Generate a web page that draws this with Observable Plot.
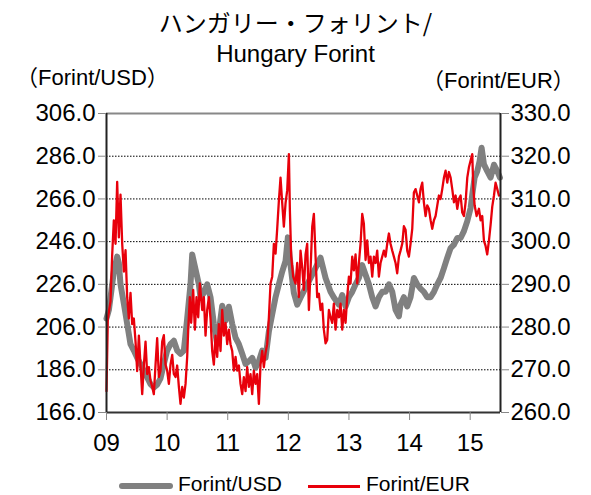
<!DOCTYPE html>
<html>
<head>
<meta charset="utf-8">
<script src="https://cdn.jsdelivr.net/npm/d3@7"></script>
<script src="https://cdn.jsdelivr.net/npm/@observablehq/plot@0.6"></script>
<style>
  html, body { margin: 0; padding: 0; background: #fff; }
  body { width: 591px; height: 495px; position: relative; overflow: hidden;
         font-family: "Liberation Sans", Arial, "Noto Sans CJK JP", sans-serif; color: #000; }
  .abs { position: absolute; white-space: nowrap; }
  #title1 { left: 0; width: 591px; text-align: center; top: 8px; font-size: 24px; line-height: 28px;
            font-family: "Noto Sans CJK JP", "Liberation Sans", sans-serif; }
  #title2 { left: 0; width: 591px; text-align: center; top: 40px; font-size: 24px; line-height: 28px; }
  #ylab-l { left: 16px; top: 62px; font-size: 22px; line-height: 26px; }
  #ylab-r { left: 422px; top: 65px; font-size: 22px; line-height: 26px; }
  #chart { position: absolute; left: 0; top: 95px; }
  #legend { top: 474px; left: 0; width: 591px; height: 20px; font-size: 21px; line-height: 20px; }
  .sw { position: absolute; }
</style>
</head>
<body>
<div id="title1" class="abs">ハンガリー・フォリント/</div>
<div id="title2" class="abs">Hungary Forint</div>
<div id="ylab-l" class="abs"><span style="font-family:'Noto Sans CJK JP'">（</span>Forint/USD<span style="font-family:'Noto Sans CJK JP'">）</span></div>
<div id="ylab-r" class="abs"><span style="font-family:'Noto Sans CJK JP'">（</span>Forint/EUR<span style="font-family:'Noto Sans CJK JP'">）</span></div>
<div id="chart"></div>
<div id="legend" class="abs">
  <div class="sw" style="left:119px;top:9px;width:54px;height:6px;background:#808080;border-radius:3px;"></div>
  <div class="abs" style="left:178px;top:0;width:120px;">Forint/USD</div>
  <div class="sw" style="left:308px;top:11px;width:52px;height:2.5px;background:#e8000b;"></div>
  <div class="abs" style="left:366px;top:0;width:120px;">Forint/EUR</div>
</div>
<script>
// Forint/USD (left axis) — time in decimal years
const usdT = [2009.000,2009.039,2009.066,2009.121,2009.176,2009.204,2009.231,2009.286,2009.341,2009.396,2009.451,2009.506,2009.561,2009.616,2009.671,2009.726,2009.781,2009.836,2009.891,2009.946,2010.001,2010.056,2010.111,2010.166,2010.221,2010.276,2010.331,2010.386,2010.414,2010.469,2010.524,
2010.551,2010.606,2010.661,2010.716,2010.771,2010.826,2010.909,2010.964,2011.019,2011.074,2011.129,2011.184,2011.239,2011.294,2011.349,2011.404,2011.459,2011.514,2011.569,2011.624,2011.679,2011.734,2011.789,2011.844,2011.899,2011.954,2011.992,2012.036,2012.091,2012.146,
2012.201,2012.311,2012.421,2012.531,2012.614,2012.696,2012.751,2012.834,2012.889,2012.944,2012.999,2013.054,2013.109,2013.164,2013.219,2013.274,2013.329,2013.384,2013.439,2013.494,2013.549,2013.604,2013.659,2013.714,2013.769,2013.824,
2013.851,2013.906,2013.961,2014.016,2014.071,2014.126,2014.181,2014.236,2014.291,2014.347,2014.402,2014.457,2014.512,2014.567,2014.622,2014.677,2014.732,2014.787,2014.842,2014.897,2014.952,2015.007,2015.034,2015.073,2015.117,2015.155,2015.188,2015.227,2015.281,2015.337,2015.392,2015.447,2015.491];
const usdV = [210,214,219.8,232,239,236,226,217,207.5,198,195,191.6,188.7,185.5,182.4,179.3,177.7,179,182,188.7,195,198,199.6,195,193.5,195,210,226,240,233,226,
219.8,222,226,220,207.5,198,216,209,215.5,207.5,201,198,193.5,188.7,190,191.6,187,190,195,191.6,204,212,220,226,232,237,248,235,222,216.5,
219.8,226,232,238.5,229,222.5,219.8,216.5,221,215.7,220,222.5,226,229,235,230.5,226,220,215.7,220,222.5,222.5,226,222.5,214,211,
216.5,220,215.7,220,229,226,224,222.5,220,220,222.5,226,229,233.6,238.5,243,244.6,247.7,247.7,250.9,255.6,261.8,268,276,279,283.7,290,282.2,279,276,282,279,276];

// Forint/EUR (right axis)
const eurT = [2009.000,2009.022,2009.066,2009.094,2009.121,2009.149,2009.176,2009.204,2009.231,2009.259,2009.286,2009.314,2009.341,2009.369,2009.396,2009.424,2009.451,2009.479,2009.506,2009.534,2009.561,2009.589,2009.616,2009.644,2009.671,2009.699,2009.726,2009.754,2009.781,2009.809,2009.836,2009.864,2009.891,2009.919,2009.946,2009.974,
2010.001,2010.029,2010.056,2010.084,2010.111,2010.139,2010.166,2010.194,2010.221,2010.249,2010.276,2010.304,2010.331,2010.348,2010.375,2010.397,2010.430,2010.458,2010.485,2010.513,2010.540,
2010.579,2010.606,2010.634,2010.661,2010.689,2010.716,2010.744,2010.771,2010.799,2010.826,2010.854,2010.881,2010.909,2010.936,2010.964,2010.991,
2011.019,2011.046,2011.074,2011.101,2011.129,2011.156,2011.184,2011.211,2011.239,2011.266,2011.294,2011.321,2011.349,2011.376,2011.404,2011.431,2011.459,2011.486,2011.514,2011.541,2011.569,2011.596,2011.624,2011.651,2011.679,2011.706,2011.734,2011.761,2011.789,2011.816,2011.844,2011.871,2011.899,2011.926,2011.954,2011.981,
2012.009,2012.025,2012.047,2012.080,2012.119,2012.146,2012.174,2012.201,2012.229,2012.256,2012.284,2012.311,2012.339,2012.366,2012.394,2012.421,2012.449,2012.476,2012.504,2012.531,2012.559,2012.586,2012.614,2012.641,2012.669,2012.696,2012.724,2012.751,2012.779,2012.806,2012.834,2012.861,2012.889,2012.916,2012.944,2012.971,2012.999,
2013.026,2013.054,2013.081,2013.109,2013.136,2013.164,2013.191,2013.219,2013.246,2013.274,2013.301,2013.329,2013.356,2013.384,2013.411,2013.439,2013.466,2013.494,2013.521,2013.549,2013.576,2013.604,2013.631,2013.659,2013.686,2013.714,2013.741,2013.769,2013.796,2013.824,
2013.851,2013.879,2013.906,2013.934,2013.961,2013.989,2014.016,2014.044,2014.071,2014.099,2014.126,2014.154,2014.181,2014.209,2014.236,2014.264,2014.291,2014.319,2014.347,2014.374,2014.402,2014.429,2014.457,2014.484,2014.512,2014.539,2014.567,2014.594,2014.622,2014.649,2014.677,2014.704,2014.732,2014.759,2014.787,2014.814,2014.842,2014.869,2014.897,2014.924,2014.952,2014.979,
2015.007,2015.034,2015.051,2015.073,2015.106,2015.144,2015.172,2015.199,2015.227,2015.254,2015.281,2015.309,2015.337,2015.364,2015.392,2015.419,2015.447,2015.474];
const eurV = [265,282,286,297,305,299.5,314,301,311,299.5,293,298,287,282,288,280.7,282,276.6,269.7,278,271.2,264.3,271,276.6,269,270.6,267.5,266,264.3,271.2,277.4,268.3,269.8,276.6,278.1,271.2,
269.8,266.7,271.2,273.5,269,268.3,271,266,262,266,263.5,266.7,273,279.4,287,281,288.7,279.4,287,282.3,290.2,
284,287,278,284,287,282,274.4,271.2,278,273,280.7,274.4,284,278,281,276,
279.4,276,274.4,269.8,273,269.8,271,266.7,264.3,268.3,265,270.6,266,269,264.3,269.8,266.7,269,262,271.2,274.4,270.6,274,276,282.3,290.2,291.8,299.5,297.2,303,309.6,315,309,303.5,309,312,
320.5,307.5,296.5,291.8,290.2,295,287,297.9,294,288.7,297,299.5,284,293.3,303.5,306.5,296.5,287,287.8,284,285.5,279.4,276.2,277,284,282.3,281,285.5,279.4,284,282.3,285.5,279.4,284,281,287,291.8,
290.2,296.5,293.3,297,290.2,295,299.5,306.5,304.2,295.7,300.3,295,296.5,291.8,296.5,295,297.9,291.8,295,296.5,297.9,296.5,299.5,301.9,299.5,297.9,296.5,295,292.6,296.5,
297.9,299.5,303.6,302.8,297.9,296.5,299.5,303,311.5,312.3,310.8,309.2,312.3,313.8,309.2,306,308.5,307.7,305,303,305,306,308.5,310.8,310,312.3,315,316.6,313.8,316.3,315,312.3,309.2,310.8,307.7,310,310.8,306.8,306,309.2,315,317.4,
319,320.5,312.7,308.5,306,307.7,305,306,300.2,299,297,300.2,304,308.2,310.8,313.8,312.3,310.8];

const yearTicks = [2009, 2010, 2011, 2012, 2013, 2014, 2015];
const leftTicks = [166, 186, 206, 226, 246, 266, 286, 306];
const rightTicks = [260, 270, 280, 290, 300, 310, 320, 330];

const usd = usdT.map((t, i) => ({t, v: usdV[i]}));
// map EUR values onto the left scale: 260..330 -> 166..306
const toLeft = r => 166 + (r - 260) * 2;
const eur = eurT.map((t, i) => ({t, v: toLeft(eurV[i])}));

const chart = Plot.plot({
  width: 591,
  height: 355,
  marginLeft: 106,
  marginRight: 91,
  marginTop: 18,
  marginBottom: 38,
  x: {domain: [2009, 2015.5]},
  y: {domain: [166, 306]},
  style: {fontFamily: "'Liberation Sans', Arial, sans-serif", fontSize: "24px", color: "#000", background: "#fff", overflow: "visible"},
  marks: [
    Plot.ruleY(leftTicks.slice(1, -1), {stroke: "#000", strokeDasharray: "1.5,1.5", strokeWidth: 1}),
    Plot.line(usd, {x: "t", y: "v", stroke: "#808080", strokeWidth: 6, strokeLinejoin: "round"}),
    Plot.line(eur, {x: "t", y: "v", stroke: "#e8000b", strokeWidth: 2.3, strokeLinejoin: "round"}),
    Plot.ruleY([306], {stroke: "#888", strokeWidth: 2}),
    Plot.ruleY([166], {stroke: "#333", strokeWidth: 2}),
    Plot.ruleX([2009, 2015.5], {stroke: "#222", strokeWidth: 2}),
    Plot.axisY({ticks: leftTicks, tickSize: 8, tickPadding: 3, stroke: "#888", fill: "#000",
                tickFormat: d => d.toFixed(1), label: null}),
    Plot.axisY({anchor: "right", ticks: leftTicks, tickSize: 8, tickPadding: 2, stroke: "#888", fill: "#000",
                tickFormat: d => rightTicks[leftTicks.indexOf(d)].toFixed(1), label: null}),
    Plot.axisX({ticks: yearTicks, tickSize: 8, tickPadding: 13, stroke: "#888", fill: "#000",
                tickFormat: d => String(d).slice(2), label: null})
  ]
});
document.getElementById("chart").appendChild(chart);
</script>
</body>
</html>
